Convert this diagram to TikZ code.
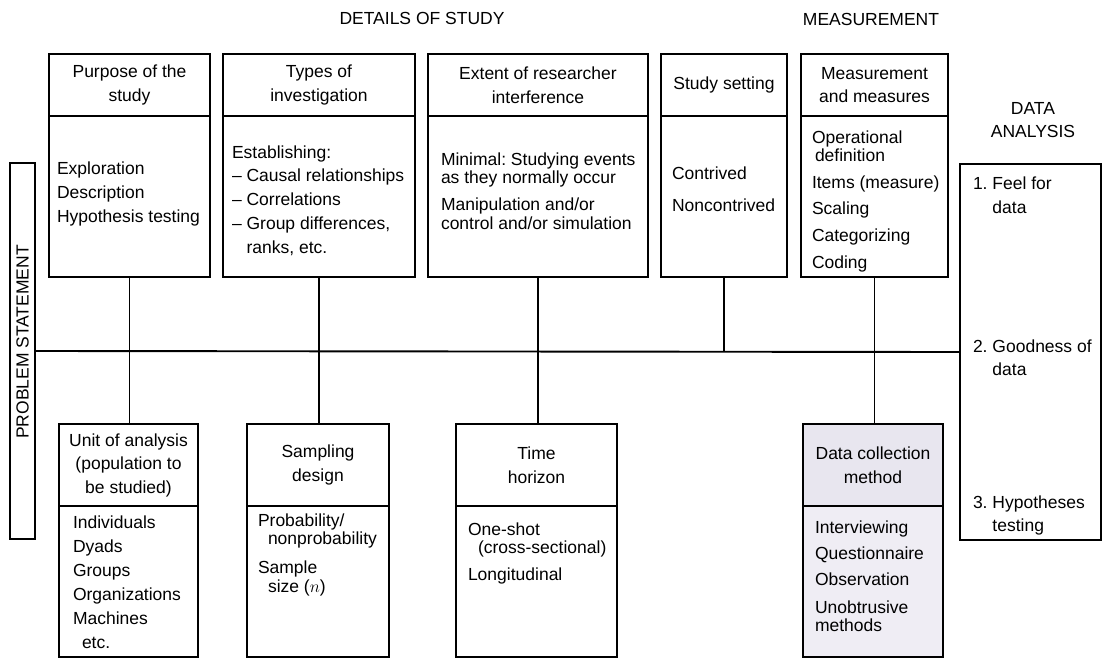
\documentclass[tikz,border=0pt]{standalone}
\usepackage{fontspec}
\setmainfont{Liberation Sans}
\frenchspacing
% lines of a box body, first baseline is the node's base
\newcommand\itemlines[1]{\begin{tabular}[t]{@{}l@{}}#1\end{tabular}}
\definecolor{dcfill}{RGB}{232,230,239}
\begin{document}
\begin{tikzpicture}[x=1pt,y=-1pt,
  box/.style={draw, line width=1.2pt, inner sep=0pt, outer sep=0pt},
  hdr/.style={box, align=center, font=\fontsize{17.5}{23.5}\selectfont},
  body/.style={box, anchor=north},
  txt/.style={anchor=base west, inner sep=0pt, outer sep=0pt, font=\fontsize{17.5}{18.5}\selectfont},
  title/.style={inner sep=0pt, align=center, font=\fontsize{17.5}{23.5}\selectfont},
  conn/.style={line width=1.9pt}]
\fill[white] (0,0) rectangle (1103,661);
\useasboundingbox (0,0) rectangle (1103,661);

% section titles
\node[title] (tDetails) at (422,18) {DETAILS OF STUDY};
\node[title] (tMeasure) at (871,19) {MEASUREMENT};
\node[title] (tData) at (1033,120) {DATA\\ANALYSIS};

% problem statement and data analysis
\node[box, minimum width=25pt, minimum height=376pt] (ps) at (22.5,351) {};
\node[rotate=90, inner sep=0pt, font=\fontsize{17.5}{20}\selectfont] (psText) at (22.5,342) {PROBLEM STATEMENT};
\node[box, minimum width=141pt, minimum height=376pt] (da) at (1030.5,352) {};

% upper row of boxes
\node[hdr, minimum width=161pt, minimum height=62pt, anchor=north west] (purposeH) at (49,54) {Purpose of the\\study};
\node[body, minimum width=161pt, minimum height=161pt] (purpose) at (purposeH.south) {};
\node[hdr, minimum width=192pt, minimum height=62pt, anchor=north west] (typesH) at (223,54) {Types of\\investigation};
\node[body, minimum width=192pt, minimum height=161pt] (types) at (typesH.south) {};
\node[hdr, minimum width=220pt, minimum height=62pt, anchor=north west] (extentH) at (428,54) {Extent of researcher\\interference};
\node[body, minimum width=220pt, minimum height=161pt] (extent) at (extentH.south) {};
\node[hdr, minimum width=126pt, minimum height=62pt, anchor=north west] (settingH) at (661,54) {Study setting};
\node[body, minimum width=126pt, minimum height=161pt] (setting) at (settingH.south) {};
\node[hdr, minimum width=147pt, minimum height=62pt, anchor=north west] (measureH) at (801,54) {Measurement\\and measures};
\node[body, minimum width=147pt, minimum height=161pt] (measure) at (measureH.south) {};

% lower row of boxes
\node[hdr, minimum width=139pt, minimum height=82pt, anchor=north west] (unitH) at (59,424) {Unit of analysis\\(population to\\be studied)};
\node[body, minimum width=139pt, minimum height=151pt] (unit) at (unitH.south) {};
\node[hdr, minimum width=142pt, minimum height=82pt, anchor=north west] (samplingH) at (247,424) {Sampling\\design};
\node[body, minimum width=142pt, minimum height=151pt] (sampling) at (samplingH.south) {};
\node[hdr, minimum width=161pt, minimum height=82pt, anchor=north west] (timeH) at (456,424) {Time\\horizon};
\node[body, minimum width=161pt, minimum height=151pt] (time) at (timeH.south) {};
\node[hdr, fill=dcfill, minimum width=140pt, minimum height=82pt, anchor=north west] (collectH) at (803,424) {Data collection\\method};
\node[body, fill=dcfill!70, minimum width=140pt, minimum height=151pt] (collect) at (collectH.south) {};

% box contents
\node[txt] (purposeT) at (57,174) {\itemlines{Exploration\\[5.5pt]Description\\[5.5pt]Hypothesis testing}};
\node[txt] (typesT) at (232,158) {\itemlines{Establishing:\\[5pt]– Causal relationships\\[5pt]– Correlations\\[6pt]– Group differences,\\[5.5pt]\phantom{–\ }ranks, etc.}};
\node[txt] (extentT) at (441,165) {\itemlines{Minimal: Studying events\\as they normally occur\\[8.5pt]Manipulation and/or\\control and/or simulation}};
\node[txt] (settingT) at (672,179) {\itemlines{Contrived\\[13.5pt]Noncontrived}};
\node[txt] (measureT) at (812,143) {\itemlines{Operational\\\hspace*{3pt}definition\\[8.5pt]Items (measure)\\[7pt]Scaling\\[8.5pt]Categorizing\\[8.5pt]Coding}};
\node[txt] (unitT) at (73,528) {\itemlines{Individuals\\[6pt]Dyads\\[5.5pt]Groups\\[5.5pt]Organizations\\[5.5pt]Machines\\[5pt]\hspace*{9pt}etc.}};
\node[txt] (samplingT) at (258,526) {\itemlines{Probability/\\\hspace*{10pt}nonprobability\\[10.5pt]Sample\\\hspace*{10pt}size ($n$)}};
\node[txt] (timeT) at (468,535) {\itemlines{One-shot\\\hspace*{10pt}(cross-sectional)\\[8.5pt]Longitudinal}};
\node[txt] (collectT) at (815,533) {\itemlines{Interviewing\\[7.5pt]Questionnaire\\[7.5pt]Observation\\[9.5pt]Unobtrusive\\methods}};
\node[txt] (da1) at (973,189) {\itemlines{1. Feel for\\[6pt]\phantom{1. }data}};
\node[txt] (da2) at (973,352) {\itemlines{2. Goodness of\\[5pt]\phantom{2. }data}};
\node[txt] (da3) at (973,508) {\itemlines{3. Hypotheses\\[5pt]\phantom{3. }testing}};

% main line and the links to it
\draw[conn] (ps.east) -- (da.west);
\draw[conn] (purpose.south) -- (purpose.south |- unitH.north);
\draw[conn] (types.south) -- (types.south |- samplingH.north);
\draw[conn] (extent.south) -- (extent.south |- timeH.north);
\draw[conn] (setting.south) -- (setting.south |- ps.east);
\draw[conn] (measure.south) -- (measure.south |- collectH.north);
\end{tikzpicture}
\end{document}
